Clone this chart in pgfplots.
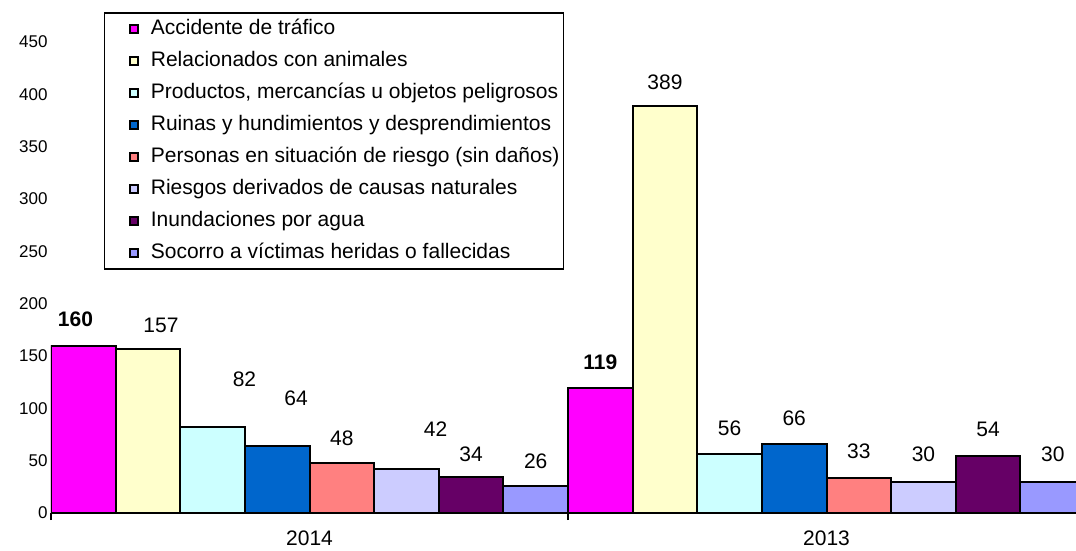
\documentclass[border=0pt]{standalone}
\usepackage{fontspec}
\setmainfont{Liberation Sans}
\usepackage{pgfplots}
\pgfplotsset{compat=1.18}
\definecolor{c1}{HTML}{FF00FF}
\definecolor{c2}{HTML}{FFFFCC}
\definecolor{c3}{HTML}{CCFFFF}
\definecolor{c4}{HTML}{0066CC}
\definecolor{c5}{HTML}{FF8080}
\definecolor{c6}{HTML}{CCCCFF}
\definecolor{c7}{HTML}{660066}
\definecolor{c8}{HTML}{9999FF}
\pgfplotsset{
  mybar/.style={ybar, bar width=1, bar shift=0pt, draw=black, line width=2pt,
    legend image code/.code={\path (-20pt,0pt);\draw[##1, draw=black, line width=2.2pt] (0pt,-4pt) rectangle (8pt,4pt);}},
}
\begin{document}
\begin{tikzpicture}
\useasboundingbox (-51pt,-38pt) rectangle (1025pt,513pt);
\begin{axis}[
  at={(0,0)}, anchor=south west,
  scale only axis, width=1025pt, height=513pt,
  xmin=0, xmax=15.86, ymin=0, ymax=490.1,
  axis x line*=bottom, axis y line*=left,
  y axis line style={draw=none},
  x axis line style={line width=2.5pt, -},
  ytick={0,50,...,450},
  ytick style={draw=none},
  yticklabel style={font=\fontsize{17}{20}\selectfont, /pgf/number format/assume math mode=true},
  xtick={4,12}, xticklabels={2014,2013},
  xtick style={draw=none},
  xticklabel style={font=\fontsize{21}{24}\selectfont, yshift=-14pt},
  extra x ticks={0,8}, extra x tick labels={},
  extra x tick style={major tick length=7pt, tick align=outside, xtick style={draw=black, line width=1.5pt}},
  legend cell align=left,
  legend style={at={(0.0517,0.9766)}, anchor=north west, draw=black, line width=1.5pt,
    inner xsep=4pt, inner ysep=0pt, row sep=0pt, column sep=12pt,
    font=\fontsize{21}{24}\selectfont,
    nodes={inner sep=0pt, text height=22pt, text depth=10pt}},
]
\addplot[mybar, fill=c1] coordinates {(0.5,160) (8.5,119)};
\addplot[mybar, fill=c2] coordinates {(1.5,157) (9.5,389)};
\addplot[mybar, fill=c3] coordinates {(2.5,82) (10.5,56)};
\addplot[mybar, fill=c4] coordinates {(3.5,64) (11.5,66)};
\addplot[mybar, fill=c5] coordinates {(4.5,48) (12.5,33)};
\addplot[mybar, fill=c6] coordinates {(5.5,42) (13.5,30)};
\addplot[mybar, fill=c7] coordinates {(6.5,34) (14.5,54)};
\addplot[mybar, fill=c8] coordinates {(7.5,26) (15.5,30)};
\legend{Accidente de tráfico, Relacionados con animales, {Productos, mercancías u objetos peligrosos}, Ruinas y hundimientos y desprendimientos, Personas en situación de riesgo (sin daños), Riesgos derivados de causas naturales, Inundaciones por agua, Socorro a víctimas heridas o fallecidas}
% value labels (bold)
\addplot[forget plot, draw=none, mark=none, nodes near coords, point meta=explicit symbolic,
  nodes near coords style={anchor=center, font=\fontsize{21}{24}\selectfont\bfseries}]
  table[meta=lab] {
x y lab
0.379 184.7 160
8.5 144.3 119
};
% value labels
\addplot[forget plot, draw=none, mark=none, nodes near coords, point meta=explicit symbolic,
  nodes near coords style={anchor=center, font=\fontsize{21}{24}\selectfont}]
  table[meta=lab] {
x y lab
1.702 179.1 157
2.994 128.0 82
3.791 109.9 64
4.5 71.0 48
5.95 79.7 42
6.5 56.4 34
7.5 49.3 26
9.5 411.8 389
10.5 81.2 56
11.5 90.8 66
12.5 59.2 33
13.5 56.4 30
14.5 80.3 54
15.5 56.4 30
};
\end{axis}
\end{tikzpicture}
\end{document}
